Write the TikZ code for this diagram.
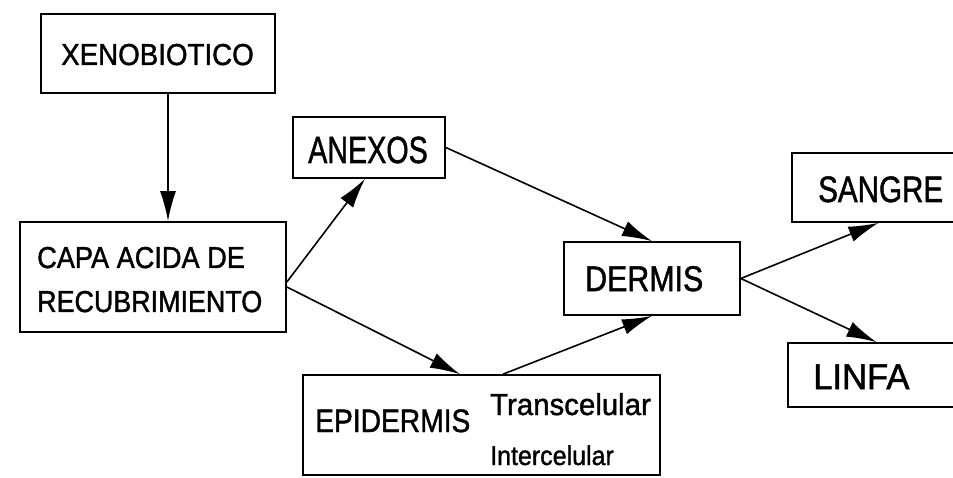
\documentclass[tikz,border=0pt]{standalone}
\usepackage{fontspec}
\setmainfont{Liberation Sans}[FakeBold=1.4]
\usepackage{graphicx}
\usetikzlibrary{arrows.meta,calc}
\newcommand{\lab}[3]{{\fontsize{#1}{#1}\selectfont\scalebox{#2}[1.08]{#3}}}
\tikzset{
  box/.style={draw, line width=1.7pt, inner sep=0pt, rectangle},
  txt/.style={anchor=base west, inner sep=0pt},
  arr/.style={line width=1.6pt, -{Latex[length=30pt,width=16pt]}}
}
\begin{document}
\begin{tikzpicture}[x=1pt,y=-1pt]
\useasboundingbox (0,0) rectangle (953,478);
\clip (0,0) rectangle (953,478);
% boxes
\node[box, minimum width=234pt, minimum height=79pt] (xeno) at (158,53.5) {};
\node[box, minimum width=152pt, minimum height=61pt] (anexos) at (369,147.5) {};
\node[box, minimum width=266pt, minimum height=110pt] (capa) at (153,277) {};
\node[box, minimum width=357pt, minimum height=100pt] (epi) at (481.5,425) {};
\node[box, minimum width=176pt, minimum height=73pt] (dermis) at (652,278.5) {};
\node[box, minimum width=173pt, minimum height=69pt] (sangre) at (878.5,187.5) {};
\node[box, minimum width=177pt, minimum height=64pt] (linfa) at (876.5,375) {};
% texts
\node[txt] (txeno) at (61,65) {\lab{28}{0.99}{XENOBIOTICO}};
\node[txt] (tanexos) at (308,163) {\lab{35}{0.82}{ANEXOS}};
\node[txt] (tcapa1) at (37,268) {\lab{28}{0.97}{CAPA ACIDA DE}};
\node[txt] (tcapa2) at (37,312) {\lab{28}{0.96}{RECUBRIMIENTO}};
\node[txt] (tepi) at (315,432) {\lab{30}{0.94}{EPIDERMIS}};
\node[txt] (ttrans) at (490,415) {\lab{28}{1.05}{Transcelular}};
\node[txt] (tinter) at (490,465) {\lab{25}{1.0}{Intercelular}};
\node[txt] (tdermis) at (585,291) {\lab{33}{0.92}{DERMIS}};
\node[txt] (tsangre) at (818,202) {\lab{34}{0.87}{SANGRE}};
\node[txt] (tlinfa) at (813,389) {\lab{33}{1.05}{LINFA}};
% connectors
\draw[arr] ($(xeno.south)+(10,0)$) -- ($(capa.north)+(15,0)$);
\draw[arr] ($(capa.east)+(0,5)$) -- ($(anexos.south)+(-4,0)$);
\draw[arr] ($(capa.east)+(0,10)$) -- ($(epi.north)+(-21.5,0)$);
\draw[arr] (anexos.east) -- (dermis.north);
\draw[arr] ($(epi.north)+(21.5,0)$) -- (dermis.south);
\draw[arr] (dermis.east) -- (sangre.south);
\draw[arr] (dermis.east) -- (linfa.north);
\end{tikzpicture}
\end{document}
